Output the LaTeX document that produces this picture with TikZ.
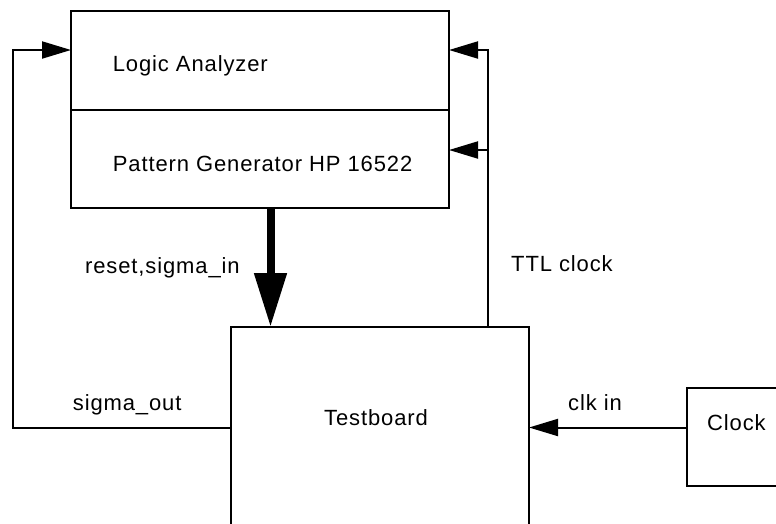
\documentclass[tikz,border=0pt]{standalone}
\usepackage{fontspec}
\setmainfont{Liberation Sans}[LetterSpace=4]
\usetikzlibrary{positioning,arrows.meta}

\begin{document}
\begin{tikzpicture}[x=1pt,y=-1pt,
  unit/.style={draw,line width=2pt,rectangle,inner sep=0pt,outer sep=0pt},
  txt/.style={anchor=base west,inner sep=0pt,font=\fontsize{22}{26}\selectfont},
  feed/.style={line width=2pt,-{Triangle[length=29pt,width=17pt]}},
  bus/.style={line width=8pt,-{Triangle[length=54pt,width=31pt]}}]
\useasboundingbox (0,0) rectangle (776,523);
\clip (0,0) rectangle (776,523);

\node[unit,minimum width=378pt,minimum height=99pt] (la) at (260,60.5) {};
\node[unit,minimum width=378pt,minimum height=98pt,below=0pt of la] (pg) {};
\node[unit,minimum width=298pt,minimum height=260pt,anchor=north west] (tb) at (231,327) {};
\node[unit,minimum width=98pt,minimum height=98pt,anchor=north west] (clk) at (687,388) {};

\coordinate (la-l) at (71,50);
\coordinate (la-r) at (449,50);
\coordinate (pg-r) at (449,150);
\coordinate (loop) at (13,50);
\coordinate (ttl) at (488,327);
\coordinate (ttl-tap) at (488,150);
\coordinate (tb-l) at (231,427.5);
\coordinate (tb-r) at (529,427.5);
\coordinate (clk-l) at (687,427.5);
\coordinate (bus-a) at (270.5,208);
\coordinate (bus-b) at (270.5,327);

\draw[feed] (ttl) |- (la-r);
\draw[feed] (ttl-tap) -- (pg-r);
\draw[feed] (tb-l) -| (loop) -- (la-l);
\draw[feed] (clk-l) -- (tb-r);
\draw[bus] (bus-a) -- (bus-b);

\node[txt] (la-txt) at (112.7,71.5) {Logic Analyzer};
\node[txt] (pg-txt) at (112.7,171.5) {Pattern Generator HP 16522};
\node[txt] (bus-txt) at (85,273) {reset,sigma\_in};
\node[txt] (ttl-txt) at (511,271.5) {TTL clock};
\node[txt] (out-txt) at (72.7,410) {sigma\_out};
\node[txt] (tb-txt) at (324,425) {Testboard};
\node[txt] (clkin-txt) at (568,410) {clk in};
\node[txt] (clk-txt) at (707,430) {Clock};
\end{tikzpicture}
\end{document}
